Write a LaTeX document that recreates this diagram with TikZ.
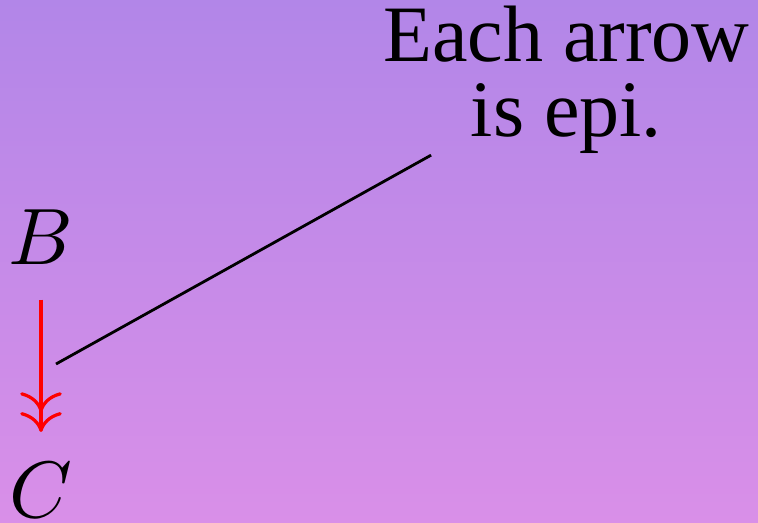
\documentclass[tikz,border=0pt]{standalone}
\usepackage{fontspec}
\newfontfamily\notefont{Liberation Serif}
\usetikzlibrary{arrows.meta}
\definecolor{bgtop}{RGB}{178,134,232}
\definecolor{bgbot}{RGB}{217,143,232}
\begin{document}
\begin{tikzpicture}[x=1pt,y=1pt,
  obj/.style={inner sep=0pt, anchor=base},
  epi/.style={red, line width=0.4pt, -{Computer Modern Rightarrow[] Computer Modern Rightarrow[]}},
  notebox/.style={inner sep=0pt, align=center, font={\notefont\fontsize{10}{9.375}\selectfont}},
  callout/.style={black, line width=0.35pt}]
  \shade[top color=bgtop, bottom color=bgbot] (0,0) rectangle (94.75,65.25);
  \useasboundingbox (0,0) rectangle (94.75,65.25);
  \node[obj] (B) at (5.125,32.25) {$B$};
  \node[obj] (C) at (5.125,0.625) {$C$};
  \draw[epi, shorten <=4.25pt, shorten >=3.6pt] (B) -- (C);
  \coordinate (m) at (7,19.75);
  \node[notebox, anchor=north] (note) at (70.8,64.7) {Each arrow\\is epi.};
  \draw[callout] (m) -- (note);
\end{tikzpicture}
\end{document}
